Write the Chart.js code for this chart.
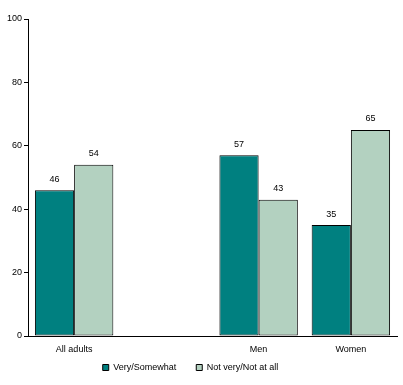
<!DOCTYPE html>
<html>
<head>
<meta charset="utf-8">
<script src="https://cdn.jsdelivr.net/npm/chart.js@4"></script>
<style>
  html, body { margin: 0; padding: 0; background: #fff; }
  #wrap { width: 403px; height: 385px; }
</style>
</head>
<body>
<div id="wrap"><canvas id="chart" width="403" height="385"></canvas></div>
<script>
const categories = ["All adults", "", "Men", "Women"];
const verySomewhat = [46, null, 57, 35];
const notVery = [54, null, 43, 65];
const seriesNames = ["Very/Somewhat", "Not very/Not at all"];

const FONT = { family: "'Liberation Sans', Arial, sans-serif", size: 9 };

// value labels over each bar
const valueLabels = {
  id: "valueLabels",
  afterDatasetsDraw(chart) {
    const ctx = chart.ctx;
    ctx.save();
    ctx.font = "9px 'Liberation Sans', Arial, sans-serif";
    ctx.fillStyle = "#000";
    ctx.textAlign = "center";
    ctx.textBaseline = "middle";
    chart.data.datasets.forEach((ds, i) => {
      chart.getDatasetMeta(i).data.forEach((bar, j) => {
        if (ds.data[j] == null) return;
        ctx.fillText(ds.data[j], bar.x, bar.y - 11);
      });
    });
    ctx.restore();
  }
};

// legend padding also sets item spacing, so move/resize the box after layout
const legendShift = {
  id: "legendShift",
  afterLayout(chart) {
    const lg = chart.legend;
    lg.top = 343;
    lg.height = 40;
    lg.bottom = 383;
    lg.left -= 8;
    lg.right -= 8;
  }
};

new Chart(document.getElementById("chart"), {
  type: "bar",
  data: {
    labels: categories,
    datasets: [{
      label: seriesNames[0],
      data: verySomewhat,
      backgroundColor: "#008080",
      borderColor: "#000",
      borderWidth: 1,
      borderSkipped: false
    }, {
      label: seriesNames[1],
      data: notVery,
      backgroundColor: "#b3d1c0",
      borderColor: "#000",
      borderWidth: 1,
      borderSkipped: false
    }]
  },
  options: {
    responsive: false,
    animation: false,
    devicePixelRatio: 1,
    categoryPercentage: 0.85,
    barPercentage: 1,
    layout: { padding: { top: 19, right: 6, left: 0, bottom: 0 } },
    plugins: {
      tooltip: { enabled: false },
      legend: {
        position: "bottom",
        maxHeight: 27,
        labels: { boxWidth: 6, boxHeight: 6, font: FONT, color: "#000", padding: 20 }
      }
    },
    scales: {
      x: {
        grid: { display: false, drawTicks: false },
        border: { color: "#000", width: 1 },
        ticks: { font: FONT, color: "#000", padding: 8, maxRotation: 0 },
        afterFit(axis) { axis.height = 22; }
      },
      y: {
        min: 0,
        max: 100,
        ticks: { stepSize: 20, font: FONT, color: "#000", padding: 2 },
        grid: { drawOnChartArea: false, drawTicks: true, tickLength: 4, color: "#000" },
        border: { color: "#000", width: 1 },
        afterFit(axis) { axis.width = 28; }
      }
    }
  },
  plugins: [valueLabels, legendShift]
});
</script>
</body>
</html>
